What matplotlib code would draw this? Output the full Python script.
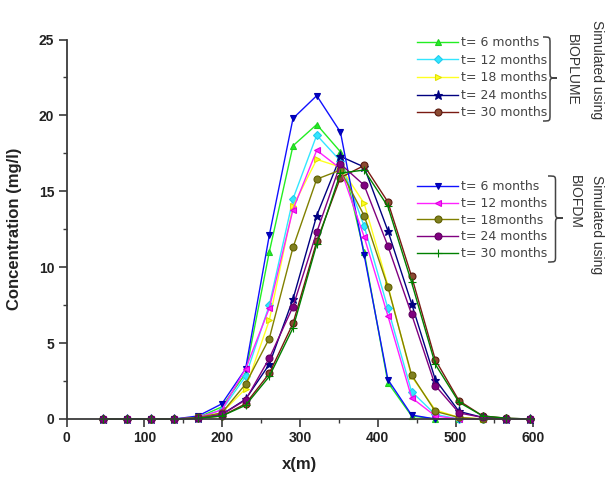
import matplotlib
matplotlib.use("Agg")
import matplotlib.pyplot as plt
from matplotlib.path import Path
from matplotlib.patches import PathPatch
from matplotlib.ticker import MultipleLocator

# distance along the flow path (m)
x_m = [47, 77.5, 108, 138.5, 169, 199.5, 230, 260.5, 291, 321.5, 352,
       382.5, 413, 443.5, 474, 504.5, 535, 565.5, 596]

# BIOPLUME results (mg/l)
bp_6 = [0, 0, 0, 0, 0.1, 0.8, 3.0, 11.0, 18.0, 19.4, 17.6, 11.0, 2.4, 0.2, 0, 0, 0, 0, 0]
bp_12 = [0, 0, 0, 0, 0.1, 0.6, 2.8, 7.5, 14.5, 18.7, 17.0, 12.7, 7.3, 1.8, 0.3, 0, 0, 0, 0]
bp_18 = [0, 0, 0, 0, 0.1, 0.4, 2.0, 6.5, 14.0, 17.1, 16.6, 14.2, 8.8, 2.8, 0.6, 0.1, 0, 0, 0]
bp_24 = [0, 0, 0, 0, 0.05, 0.3, 1.3, 3.6, 7.9, 13.4, 17.3, 16.6, 12.4, 7.6, 2.6, 0.5, 0.1, 0, 0]
bp_30 = [0, 0, 0, 0, 0.05, 0.2, 1.0, 3.0, 6.3, 11.7, 15.9, 16.7, 14.3, 9.4, 3.9, 1.2, 0.2, 0.05, 0]

# BIOFDM results (mg/l)
fdm_6 = [0, 0, 0, 0, 0.2, 1.0, 3.3, 12.1, 19.8, 21.3, 18.9, 10.8, 2.6, 0.26, 0, 0, 0, 0, 0]
fdm_12 = [0, 0, 0, 0, 0.1, 0.6, 3.3, 7.3, 13.8, 17.7, 16.5, 12.0, 6.8, 1.4, 0.2, 0, 0, 0, 0]
fdm_18 = [0, 0, 0, 0, 0.1, 0.4, 2.3, 5.3, 11.3, 15.8, 16.4, 13.4, 8.7, 2.9, 0.5, 0.1, 0, 0, 0]
fdm_24 = [0, 0, 0, 0, 0.05, 0.3, 1.25, 4.0, 7.4, 12.3, 16.8, 15.4, 11.4, 6.9, 2.2, 0.4, 0.1, 0, 0]
fdm_30 = [0, 0, 0, 0, 0.05, 0.2, 0.9, 2.8, 6.0, 11.5, 16.2, 16.4, 14.0, 9.0, 3.6, 1.1, 0.2, 0.05, 0]

bp_labels = ["t= 6 months", "t= 12 months", "t= 18 months", "t= 24 months", "t= 30 months"]
fdm_labels = ["t= 6 months", "t= 12 months", "t= 18months", "t= 24 months", "t= 30 months"]

W, H = 606, 479
fig = plt.figure(figsize=(W / 100, H / 100), dpi=100)
ax = fig.add_axes([66.7 / W, 1 - 419 / H, (533.3 - 66.7) / W, (419 - 39.5) / H])

bp_styles = [
    dict(color="#22ee22", marker="^", mfc="#22ee22", mec="#22cc22"),
    dict(color="#33e6ff", marker="D", mfc="#33e6ff", mec="#22ccee", ms=4.2),
    dict(color="#ffff22", marker=">", mfc="#ffff22", mec="#e0e000"),
    dict(color="#000080", marker="*", mfc="#000080", mec="#000080", ms=6.5),
    dict(color="#7a1a12", marker="o", mfc="#8b4a32", mec="#5a1a10"),
]
fdm_styles = [
    dict(color="#1010ff", marker="v", mfc="#0000cc", mec="#0000aa"),
    dict(color="#ff22ff", marker="<", mfc="#ff22ff", mec="#dd00dd"),
    dict(color="#808000", marker="o", mfc="#808020", mec="#606000"),
    dict(color="#800080", marker="o", mfc="#800080", mec="#600060"),
    dict(color="#008000", marker="+", mfc="#008000", mec="#008000", ms=5.5),
]

bp_handles = []
for ys, st, lab in zip([bp_6, bp_12, bp_18, bp_24, bp_30], bp_styles, bp_labels):
    st = dict(st)
    ms = st.pop("ms", 5)
    h, = ax.plot(x_m, ys, lw=1.0, ms=ms, mew=0.8, label=lab, clip_on=False, **st)
    bp_handles.append(h)

fdm_handles = []
for ys, st, lab in zip([fdm_6, fdm_12, fdm_18, fdm_24, fdm_30], fdm_styles, fdm_labels):
    st = dict(st)
    ms = st.pop("ms", 5)
    h, = ax.plot(x_m, ys, lw=1.0, ms=ms, mew=0.8, label=lab, clip_on=False, **st)
    fdm_handles.append(h)

ax.set_xlim(0, 600)
ax.set_ylim(0, 25)
ax.xaxis.set_major_locator(MultipleLocator(100))
ax.xaxis.set_minor_locator(MultipleLocator(50))
ax.yaxis.set_major_locator(MultipleLocator(5))
ax.yaxis.set_minor_locator(MultipleLocator(2.5))

for side in ("top", "right"):
    ax.spines[side].set_visible(False)
for side in ("left", "bottom"):
    ax.spines[side].set_color("#3a3a3a")
    ax.spines[side].set_linewidth(1.3)

tick_font = dict(family="Liberation Sans", weight="bold", size=10)
ax.tick_params(which="major", direction="out", length=6, width=1.2, color="#3a3a3a",
               labelcolor="#222222", pad=3)
ax.tick_params(which="minor", direction="out", length=3, width=1.0, color="#3a3a3a")
for lbl in ax.get_xticklabels() + ax.get_yticklabels():
    lbl.set_fontproperties(matplotlib.font_manager.FontProperties(**tick_font))

ax.set_xlabel("x(m)", family="Liberation Sans", weight="bold", size=12, color="#222222", labelpad=8)
ax.set_ylabel("Concentration (mg/l)", family="Liberation Sans", weight="bold", size=12,
              color="#222222", labelpad=12)

leg_kw = dict(frameon=False, loc="upper left", borderpad=0, borderaxespad=0,
              handlelength=3.3, handletextpad=0.25, numpoints=1,
              prop=dict(family="DejaVu Sans", size=9), labelcolor="#444444")
leg1 = ax.legend(handles=bp_handles, bbox_to_anchor=(417 / W, 1 - 36 / H),
                 bbox_transform=fig.transFigure, labelspacing=0.37, **leg_kw)
ax.add_artist(leg1)
leg2 = ax.legend(handles=fdm_handles, bbox_to_anchor=(417 / W, 1 - 180.5 / H),
                 bbox_transform=fig.transFigure, labelspacing=0.29, **leg_kw)


def brace(x0, x1, ytop, ybot, ytip, r=6):
    """Right-pointing curly brace in pixel coordinates (origin top-left)."""
    xm = (x0 + x1) / 2
    pts = [
        (x0, ytop), (xm, ytop), (xm, ytop), (xm, ytop + r),
        (xm, ytip - r),
        (xm, ytip), (xm, ytip), (x1, ytip),
        (xm, ytip), (xm, ytip), (xm, ytip + r),
        (xm, ybot - r),
        (xm, ybot), (xm, ybot), (x0, ybot),
    ]
    codes = [Path.MOVETO, Path.CURVE4, Path.CURVE4, Path.CURVE4,
             Path.LINETO,
             Path.CURVE4, Path.CURVE4, Path.CURVE4,
             Path.CURVE4, Path.CURVE4, Path.CURVE4,
             Path.LINETO,
             Path.CURVE4, Path.CURVE4, Path.CURVE4]
    verts = [(px / W, 1 - py / H) for px, py in pts]
    fig.patches.append(PathPatch(Path(verts, codes), transform=fig.transFigure,
                                 fill=False, lw=1.1, ec="#444444"))


brace(543, 557, 37, 121, 78)
brace(548, 563, 176, 262, 218)

side_font = dict(family="Liberation Sans", size=10, color="#333333", rotation=270)
fig.text(597 / W, 1 - 70 / H, "Simulated using", ha="center", va="center", **side_font)
fig.text(572 / W, 1 - 70 / H, "BIOPLUME", ha="center", va="center", **side_font)
fig.text(597 / W, 1 - 175 / H, "Simulated using", ha="center", va="top", **side_font)
fig.text(575 / W, 1 - 175 / H, "BIOFDM", ha="center", va="top", **side_font)

fig.savefig("out.png", dpi=100)
